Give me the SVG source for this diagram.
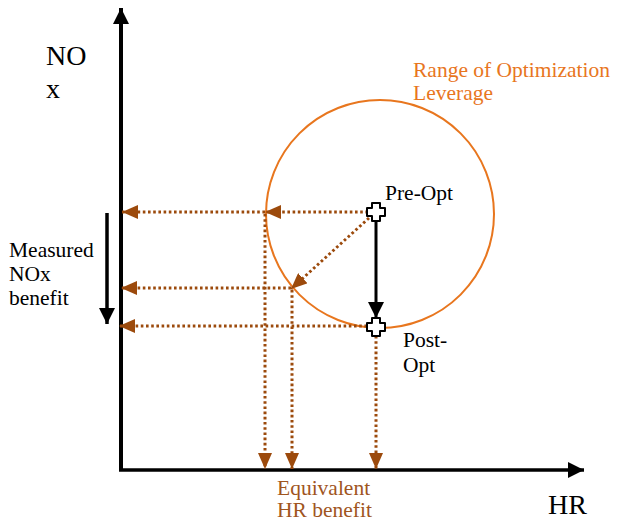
<svg xmlns="http://www.w3.org/2000/svg" width="619" height="522" viewBox="0 0 619 522">
<style>
text{font-family:"Liberation Serif",Tinos,"Times New Roman",Times,"Nimbus Roman","Nimbus Roman No9 L",FreeSerif,"Noto Serif","DejaVu Serif",serif;font-size:21.5px;fill:#000}
.big{font-size:28px}
.org{fill:#E8761E}
.brn{fill:#A0551E}
.dot{stroke:#9C4A0C;stroke-width:3;stroke-dasharray:2.6 2.6;fill:none}
.blk{stroke:#000;fill:none}
</style>
<defs>
<marker id="ah" viewBox="0 0 16 14" refX="16" refY="7" markerWidth="16" markerHeight="14" markerUnits="userSpaceOnUse" orient="auto">
<path d="M0,0 L16,7 L0,14 Z" fill="#9C4A0C"/>
</marker>
<marker id="bh" viewBox="0 0 16 16" refX="16" refY="8" markerWidth="16" markerHeight="16" markerUnits="userSpaceOnUse" orient="auto">
<path d="M0,0 L16,8 L0,16 Z" fill="#000"/>
</marker>
<polygon id="cross" points="-4,-9 4,-9 4,-4 9,-4 9,4 4,4 4,9 -4,9 -4,4 -9,4 -9,-4 -4,-4" fill="#fff" stroke="#000" stroke-width="2" stroke-linejoin="round"/>
</defs>
<g id="axes">
<path class="blk" d="M121,470 L121,8" stroke-width="4" marker-end="url(#bh)"/>
<path class="blk" d="M119,470 L584,470" stroke-width="3.5" marker-end="url(#bh)"/>
</g>
<g id="range-circle">
<circle cx="380" cy="214" r="114" fill="none" stroke="#E8761E" stroke-width="2"/>
</g>
<g id="connectors">
<path class="dot" d="M368,212 L265,212" marker-end="url(#ah)"/>
<path class="dot" d="M265,212 L122,212" marker-end="url(#ah)"/>
<path class="dot" d="M369,218 L291,289" marker-end="url(#ah)"/>
<path class="dot" d="M291,288 L121,288" marker-end="url(#ah)"/>
<path class="dot" d="M367,326 L119,326" marker-end="url(#ah)"/>
<path class="dot" d="M265,214 L265,469" marker-end="url(#ah)"/>
<path class="dot" d="M292,290 L292,469" marker-end="url(#ah)"/>
<path class="dot" d="M376,336 L376,469" marker-end="url(#ah)"/>
<path class="blk" d="M376,221 L376,318" stroke-width="3" marker-end="url(#bh)"/>
<path class="blk" d="M107,213 L107,324" stroke-width="3.5" marker-end="url(#bh)"/>
</g>
<g id="pre-opt">
<use href="#cross" x="376" y="212"/>
<text x="385" y="200">Pre-Opt</text>
</g>
<g id="post-opt">
<use href="#cross" x="376" y="327"/>
<text x="403" y="347">Post-</text>
<text x="403" y="372">Opt</text>
</g>
<g id="labels">
<text class="big" x="46" y="65">NO</text>
<text class="big" x="46" y="98">x</text>
<text class="big" x="548" y="514">HR</text>
<text class="org" x="413" y="77">Range of Optimization</text>
<text class="org" x="413" y="100">Leverage</text>
<text x="9" y="257">Measured</text>
<text x="9" y="281">NOx</text>
<text x="9" y="305">benefit</text>
<text class="brn" x="277" y="495">Equivalent</text>
<text class="brn" x="277" y="517">HR benefit</text>
</g>
</svg>
